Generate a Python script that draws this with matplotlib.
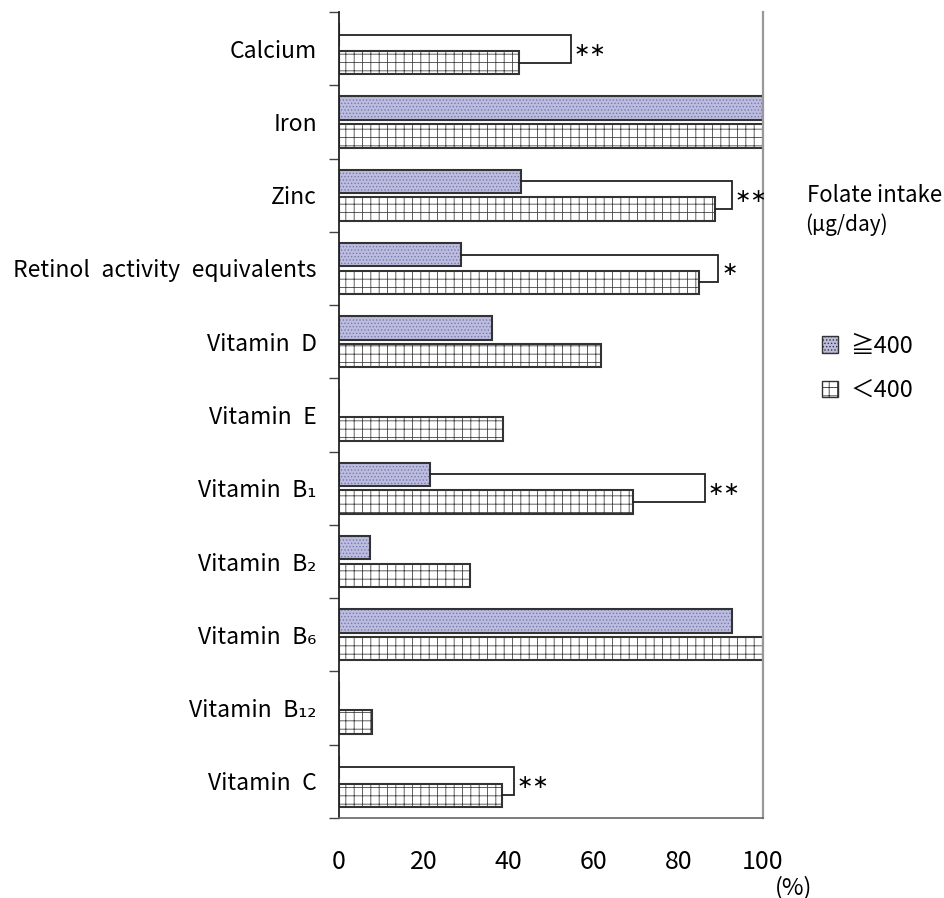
import matplotlib
matplotlib.use('Agg')
import matplotlib.pyplot as plt
from matplotlib.patches import Patch
import numpy as np

plt.rcParams['font.family'] = ['Noto Sans CJK JP', 'DejaVu Sans']
plt.rcParams['hatch.linewidth'] = 0.6

# data (percent)
nutrients = ['Calcium', 'Iron', 'Zinc', 'Retinol activity equivalents',
             'Vitamin D', 'Vitamin E', 'Vitamin B\u2081', 'Vitamin B\u2082',
             'Vitamin B\u2086', 'Vitamin B\u2081\u2082', 'Vitamin C']
high = [0, 100, 42.9, 28.7, 36.0, 0, 21.5, 7.3, 92.8, 0, 0]        # >=400
low = [42.5, 100, 88.7, 84.8, 61.7, 38.6, 69.4, 30.9, 100, 7.8, 38.5]  # <400
sig = ['**', '', '**', '*', '', '', '**', '', '', '', '**']
bracket_x = [54.6, None, 92.6, 89.5, None, None, 86.3, None, None, None, 41.3]

fig = plt.figure(figsize=(9.45, 8.98), dpi=100)
ax = fig.add_axes([339 / 945, 80 / 898, 424 / 945, 806 / 898])

y = np.arange(len(nutrients))
off = 0.19
h = 0.32

# >=400 bars: dotted lavender
ax.barh(y - off, high, height=h, color='#bcbcdf', hatch='.....',
        edgecolor='#7878ad', linewidth=0)
ax.barh(y - off, high, height=h, color='none', edgecolor='#333333', linewidth=1.5)
# <400 bars: white grid
ax.barh(y + off, low, height=h, color='white', hatch='++',
        edgecolor='#444444', linewidth=0)
ax.barh(y + off, low, height=h, color='none', edgecolor='#333333', linewidth=1.5)

# significance brackets
for i in range(len(nutrients)):
    if bracket_x[i] is None:
        continue
    bx = bracket_x[i]
    ax.plot([high[i], bx, bx, low[i]], [i - off, i - off, i + off, i + off],
            color='#222222', lw=1.3, solid_joinstyle='miter')
    ax.text(bx + 0.6, i + 0.02, sig[i].replace('*', '\u2217'), fontsize=14,
            family='DejaVu Sans', va='center', ha='left')

ax.set_xlim(0, 100)
ax.set_ylim(len(nutrients) - 0.5, -0.5)
ax.set_xticks([0, 20, 40, 60, 80, 100])
ax.tick_params(axis='x', length=0, pad=22, labelsize=18)
ax.set_yticks(y)
# wider word gaps, as in the original
ax.set_yticklabels([n.replace(' ', '\u2002') for n in nutrients])
ax.tick_params(axis='y', which='major', length=0, pad=16, labelsize=16.5)
ax.set_yticks(np.arange(len(nutrients) + 1) - 0.5, minor=True)
ax.tick_params(axis='y', which='minor', length=7, width=1, color='#444444')

ax.spines['top'].set_visible(False)
ax.spines['left'].set_color('#222222')
ax.spines['left'].set_linewidth(1.3)
ax.spines['bottom'].set_color('#666666')
ax.spines['bottom'].set_linewidth(1.2)
ax.spines['right'].set_color('#999999')
ax.spines['right'].set_linewidth(1.6)

fig.text(794 / 945, 1 - 888 / 898, '(%)', fontsize=17, ha='center', va='center')
fig.text(807 / 945, 1 - 195 / 898, 'Folate intake', fontsize=16, ha='left', va='center')
fig.text(805 / 945, 1 - 225 / 898, '(\u00b5g/day)', fontsize=15, ha='left', va='center')

handles = [Patch(facecolor='#bcbcdf', hatch='.....', edgecolor='#333333', lw=1),
           Patch(facecolor='white', hatch='++', edgecolor='#333333', lw=1)]
fig.legend(handles, ['\u2267400', '\uff1c400'], loc='upper left',
           bbox_to_anchor=(810 / 945, 1 - 323 / 898), frameon=False,
           fontsize=17, handlelength=0.7, handleheight=0.7, handletextpad=0.5,
           labelspacing=0.9, borderpad=0)

fig.savefig('out.png', dpi=100)
